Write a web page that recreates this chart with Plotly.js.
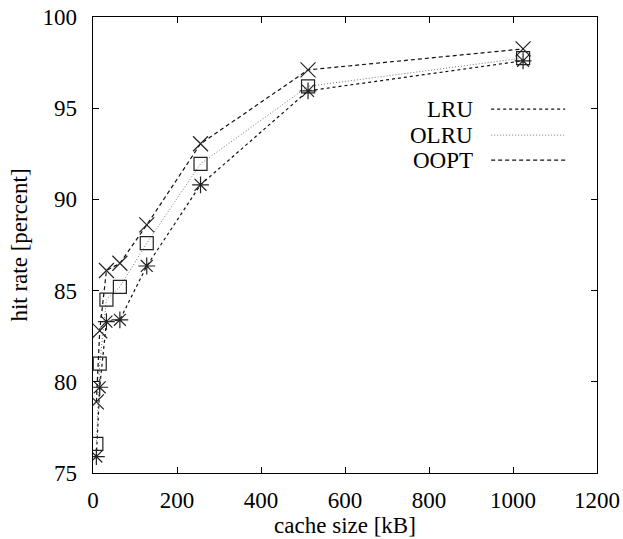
<!DOCTYPE html>
<html>
<head>
<meta charset="utf-8">
<script src="https://cdn.plot.ly/plotly-3.0.1.min.js"></script>
<style>html,body{margin:0;padding:0;background:#fff;}#chart{width:623px;height:539px;}</style>
</head>
<body>
<div id="chart"></div>
<script>
const cacheSizes = [8, 16, 32, 64, 128, 256, 512, 1024];
const lruRate  = [75.9, 79.7, 83.3, 83.4, 86.35, 90.8, 95.95, 97.6];
const olruRate = [76.6, 81.0, 84.5, 85.2, 87.6, 91.95, 96.2, 97.75];
const ooptRate = [78.9, 82.8, 86.1, 86.5, 88.6, 93.05, 97.1, 98.25];
const seriesNames = ['LRU', 'OLRU', 'OOPT'];
const xTicks = [0, 200, 400, 600, 800, 1000, 1200];
const yTicks = [75, 80, 85, 90, 95, 100];

const FONT = 'Liberation Serif';
const FS = 23;
const styles = [
  {dash: 'dot', color: '#111', width: 1.2, symbol: 'asterisk-open', size: 14},
  {dash: '1px,2px', color: '#777', width: 1, symbol: 'square-open', size: 13},
  {dash: '4px,3px', color: '#111', width: 1.2, symbol: 'x-thin-open', size: 15}
];
const values = [lruRate, olruRate, ooptRate];

const traces = values.map((v, i) => ({
  x: cacheSizes, y: v, type: 'scatter', mode: 'lines+markers', name: seriesNames[i],
  showlegend: false,
  line: {dash: styles[i].dash, color: styles[i].color, width: styles[i].width},
  marker: {symbol: styles[i].symbol, size: styles[i].size, color: '#222',
           line: {color: '#222', width: 1.2}}
}));

const legendY = [0.798, 0.741, 0.686];
const annotations = seriesNames.map((n, i) => ({
  xref: 'paper', yref: 'paper', x: 0.758, y: legendY[i], xanchor: 'right', yanchor: 'middle',
  text: n, showarrow: false, font: {family: FONT, size: FS, color: '#000'}
}));
const shapes = seriesNames.map((n, i) => ({
  type: 'line', xref: 'paper', yref: 'paper', x0: 0.790, x1: 0.937, y0: legendY[i], y1: legendY[i],
  line: {dash: styles[i].dash, color: styles[i].color, width: styles[i].width}
}));

const axisCommon = {
  showgrid: false, zeroline: false, showline: true, linecolor: '#000', linewidth: 1.3,
  mirror: 'ticks', ticks: 'inside', ticklen: 6, tickcolor: '#000', tickwidth: 1,
  tickfont: {family: FONT, size: FS, color: '#000'}
};

const layout = {
  width: 623, height: 539,
  margin: {l: 93, r: 26, t: 17, b: 66},
  paper_bgcolor: '#fff', plot_bgcolor: '#fff',
  showlegend: false,
  xaxis: Object.assign({}, axisCommon, {
    range: [0, 1200], tickvals: xTicks, ticktext: xTicks.map(String),
    ticklabelstandoff: 6,
    title: {text: 'cache size [kB]', font: {family: FONT, size: FS, color: '#000'}, standoff: 2}
  }),
  yaxis: Object.assign({}, axisCommon, {
    range: [75, 100], tickvals: yTicks, ticktext: yTicks.map(String),
    ticklabelstandoff: 10,
    title: {text: 'hit rate [percent]', font: {family: FONT, size: FS, color: '#000'}, standoff: 8}
  }),
  annotations: annotations,
  shapes: shapes
};

Plotly.newPlot('chart', traces, layout, {staticPlot: true, displayModeBar: false});
</script>
</body>
</html>
